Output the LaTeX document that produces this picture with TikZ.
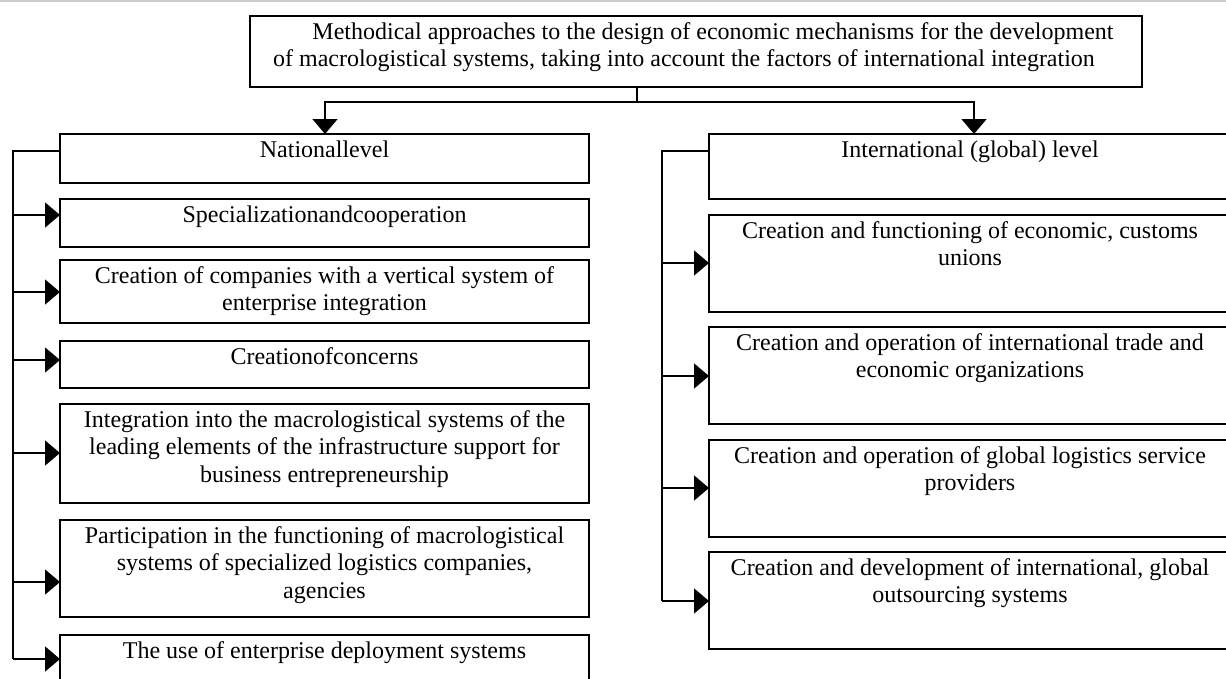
\documentclass[tikz,border=0pt]{standalone}
\usepackage{fontspec}
\setmainfont{Liberation Serif}
\usetikzlibrary{arrows.meta}
\newcommand\bxt[3]{\parbox[b][#2][t]{#1}{\fontsize{24pt}{27.5pt}\selectfont\centering\rule{0pt}{23pt}#3}}
\tikzset{
  box/.style={draw, line width=1.8pt, inner sep=0pt, outer sep=0pt, anchor=north west},
  conn/.style={line width=1.6pt},
  arr/.style={line width=1.6pt, -{Triangle[length=15pt,width=25pt]}}
}
\begin{document}
\begin{tikzpicture}[x=1pt,y=-1pt]
\clip (0,0) rectangle (1226,678);
\draw[line width=1.5pt, gray!40] (0,0.75) -- (1226,0.75);
% top
\node[box] (top) at (250,16) {\bxt{892pt}{71pt}{\hspace*{34pt}Methodical approaches to the design of economic mechanisms for the development\\of macrologistical systems, taking into account the factors of international integration\kern24pt}};
% left column
\node[box] (nat) at (60,134) {\bxt{529pt}{49pt}{Nationallevel}};
\node[box] (spec) at (60,199) {\bxt{529pt}{48pt}{Specializationandcooperation}};
\node[box] (comp) at (60,260) {\bxt{529pt}{63pt}{Creation of companies with a vertical system of\\enterprise integration}};
\node[box] (conc) at (60,341) {\bxt{529pt}{47pt}{Creationofconcerns}};
\node[box] (integ) at (60,404) {\bxt{529pt}{99pt}{Integration into the macrologistical systems of the\\leading elements of the infrastructure support for\\business entrepreneurship}};
\node[box] (part) at (60,520) {\bxt{529pt}{97pt}{Participation in the functioning of macrologistical\\systems of specialized logistics companies,\\agencies}};
\node[box] (use) at (60,635) {\bxt{529pt}{48pt}{The use of enterprise deployment systems}};
% right column
\node[box] (intl) at (709,134) {\bxt{522pt}{65pt}{International (global) level}};
\node[box] (r1) at (709,215) {\bxt{522pt}{97pt}{Creation and functioning of economic, customs\\unions}};
\node[box] (r2) at (709,327) {\bxt{522pt}{97pt}{Creation and operation of international trade and\\economic organizations}};
\node[box] (r3) at (709,440) {\bxt{522pt}{97pt}{Creation and operation of global logistics service\\providers}};
\node[box] (r4) at (709,552) {\bxt{522pt}{97pt}{Creation and development of international, global\\outsourcing systems}};
% top connectors
\coordinate (j) at (637,102);
\coordinate (jl) at (325,102);
\coordinate (jr) at (974,102);
\draw[conn] (top.south -| j) -- (j);
\draw[arr] (j) -- (jl) -- (jl |- nat.north);
\draw[arr] (j) -- (jr) -- (jr |- intl.north);
% left bus
\coordinate (lb0) at (13,151);
\coordinate (lb1) at (13,215);
\coordinate (lb2) at (13,292);
\coordinate (lb3) at (13,360);
\coordinate (lb4) at (13,453);
\coordinate (lb5) at (13,582);
\coordinate (lb6) at (13,659);
\draw[conn] (lb0 -| nat.west) -- (lb0) -- (lb6);
\draw[arr] (lb1) -- (lb1 -| spec.west);
\draw[arr] (lb2) -- (lb2 -| comp.west);
\draw[arr] (lb3) -- (lb3 -| conc.west);
\draw[arr] (lb4) -- (lb4 -| integ.west);
\draw[arr] (lb5) -- (lb5 -| part.west);
\draw[arr] (lb6) -- (lb6 -| use.west);
% right bus
\coordinate (rb0) at (662,151);
\coordinate (rb1) at (662,263);
\coordinate (rb2) at (662,376);
\coordinate (rb3) at (662,488);
\coordinate (rb4) at (662,601);
\draw[conn] (rb0 -| intl.west) -- (rb0) -- (rb4);
\draw[arr] (rb1) -- (rb1 -| r1.west);
\draw[arr] (rb2) -- (rb2 -| r2.west);
\draw[arr] (rb3) -- (rb3 -| r3.west);
\draw[arr] (rb4) -- (rb4 -| r4.west);
\end{tikzpicture}
\end{document}
